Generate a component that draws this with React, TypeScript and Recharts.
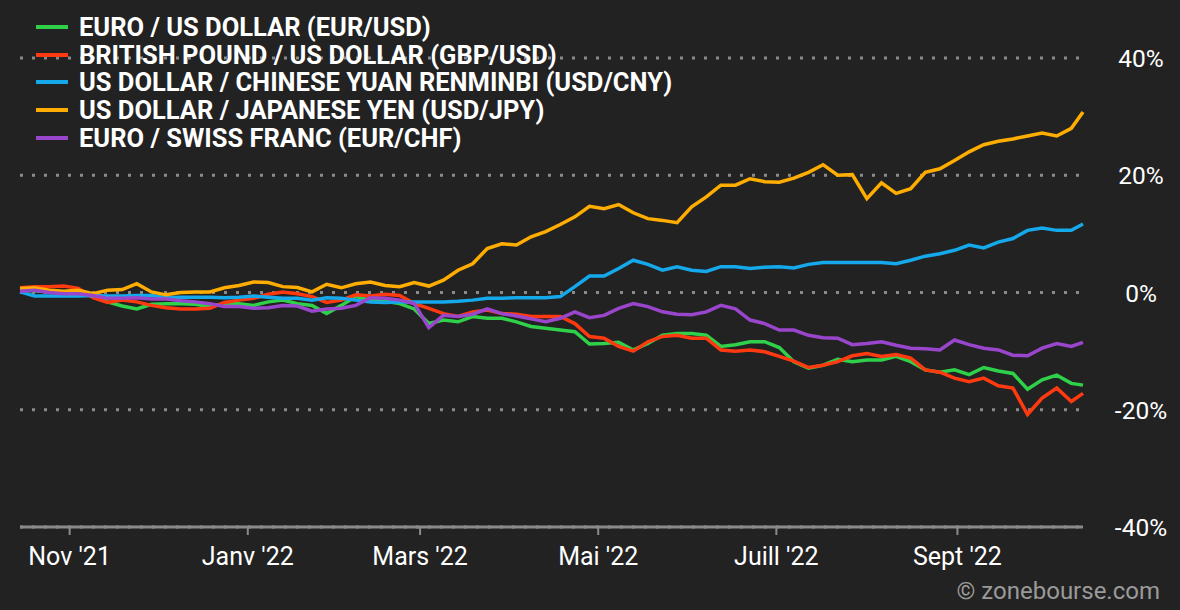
import { CartesianGrid, Line, LineChart, XAxis, YAxis } from 'recharts';

// sample dates, every 5 days from 15 Oct 2021 to 14 Oct 2022
const dates = [
  '2021-10-15', '2021-10-20', '2021-10-25', '2021-10-30', '2021-11-04', '2021-11-09', '2021-11-14', '2021-11-19',
  '2021-11-24', '2021-11-29', '2021-12-04', '2021-12-09', '2021-12-14', '2021-12-19', '2021-12-24', '2021-12-29',
  '2022-01-03', '2022-01-08', '2022-01-13', '2022-01-18', '2022-01-23', '2022-01-28', '2022-02-02', '2022-02-07',
  '2022-02-12', '2022-02-17', '2022-02-22', '2022-02-27', '2022-03-04', '2022-03-09', '2022-03-14', '2022-03-19',
  '2022-03-24', '2022-03-29', '2022-04-03', '2022-04-08', '2022-04-13', '2022-04-18', '2022-04-23', '2022-04-28',
  '2022-05-03', '2022-05-08', '2022-05-13', '2022-05-18', '2022-05-23', '2022-05-28', '2022-06-02', '2022-06-07',
  '2022-06-12', '2022-06-17', '2022-06-22', '2022-06-27', '2022-07-02', '2022-07-07', '2022-07-12', '2022-07-17',
  '2022-07-22', '2022-07-27', '2022-08-01', '2022-08-06', '2022-08-11', '2022-08-16', '2022-08-21', '2022-08-26',
  '2022-08-31', '2022-09-05', '2022-09-10', '2022-09-15', '2022-09-20', '2022-09-25', '2022-09-30', '2022-10-05',
  '2022-10-10', '2022-10-14'
];

// performance in %
const eurUsd = [
  0.4, 0.3, 0.1, 0, -0.2, -0.4, -1.6, -2.3, -2.8, -2.0, -1.9, -1.9, -2.0, -2.4, -1.9, -1.9,
  -2.2, -1.6, -1.3, -1.9, -2.2, -3.6, -2.2, -0.7, -1.3, -1.5, -1.9, -2.8, -5.3, -4.7, -5.0, -4.1,
  -4.4, -4.4, -5.0, -5.8, -6.1, -6.4, -6.7, -8.8, -8.7, -8.5, -9.8, -8.7, -7.3, -7.0, -7.0, -7.3,
  -9.2, -8.9, -8.4, -8.4, -9.4, -11.8, -12.9, -12.4, -11.4, -11.8, -11.5, -11.5, -10.9, -11.8, -13.2, -13.6,
  -13.2, -14.0, -12.8, -13.4, -13.8, -16.5, -14.9, -14.1, -15.5, -15.8
];
const gbpUsd = [
  0.8, 1.0, 1.0, 1.1, 0.7, -0.9, -1.7, -1.3, -1.6, -2.2, -2.6, -2.8, -2.8, -2.7, -1.7, -1.3,
  -1.0, -0.3, 0.1, -0.2, -0.7, -1.7, -1.3, -0.4, -0.6, -0.3, -0.5, -1.9, -2.7, -3.6, -4.1, -3.3,
  -3.0, -3.6, -3.7, -4.1, -4.1, -4.1, -5.3, -7.5, -7.8, -9.2, -10.0, -8.4, -7.5, -7.3, -7.8, -7.8,
  -9.8, -10.0, -9.8, -10.1, -10.9, -11.7, -12.8, -12.4, -11.8, -10.8, -10.4, -10.9, -10.6, -11.2, -13.2, -13.6,
  -14.6, -15.2, -14.6, -15.9, -16.3, -20.8, -18.0, -16.3, -18.6, -17.2
];
const usdCny = [
  0.1, -0.6, -0.6, -0.6, -0.6, -0.5, -0.6, -0.6, -0.5, -0.5, -0.9, -0.8, -0.8, -0.8, -0.9, -0.8,
  -0.6, -0.8, -1.0, -1.0, -1.3, -0.9, -1.0, -1.3, -1.6, -1.7, -1.6, -1.6, -1.6, -1.6, -1.5, -1.3,
  -1.0, -1.0, -0.9, -0.9, -0.9, -0.7, 1.0, 2.8, 2.8, 4.1, 5.5, 4.8, 3.8, 4.4, 3.8, 3.6,
  4.4, 4.4, 4.1, 4.3, 4.4, 4.2, 4.8, 5.1, 5.1, 5.1, 5.1, 5.1, 4.9, 5.5, 6.2, 6.6,
  7.2, 8.1, 7.6, 8.6, 9.2, 10.6, 11.0, 10.6, 10.6, 11.7
];
const usdJpy = [
  0.7, 0.8, 0.4, 0.2, 0.4, -0.2, 0.4, 0.5, 1.5, 0.1, -0.4, 0, 0.1, 0.1, 0.8, 1.2,
  1.8, 1.7, 1.0, 0.85, 0.1, 1.4, 0.8, 1.5, 1.8, 1.2, 1.0, 1.7, 1.1, 2.1, 3.8, 4.9,
  7.5, 8.3, 8.1, 9.5, 10.4, 11.6, 12.9, 14.7, 14.3, 15.0, 13.6, 12.6, 12.3, 11.9, 14.6, 16.3,
  18.3, 18.3, 19.4, 18.9, 18.8, 19.5, 20.5, 21.8, 20.0, 20.1, 16.0, 18.7, 16.9, 17.7, 20.5, 21.1,
  22.5, 24.0, 25.2, 25.8, 26.2, 26.7, 27.2, 26.7, 28.0, 30.8
];
const eurChf = [
  0.2, 0.4, 0, -0.2, -0.2, -0.5, -1.0, -1.0, -0.9, -1.1, -1.1, -1.4, -1.6, -1.9, -2.4, -2.4,
  -2.7, -2.6, -2.2, -2.3, -3.2, -2.8, -2.7, -2.2, -0.9, -1.0, -1.3, -1.9, -6.0, -3.9, -4.1, -3.7,
  -2.8, -3.6, -4.0, -4.5, -5.0, -4.4, -3.3, -4.3, -3.9, -2.7, -1.9, -2.4, -3.3, -3.7, -3.8, -3.3,
  -2.2, -2.8, -4.7, -5.3, -6.4, -6.4, -7.3, -7.7, -7.8, -8.9, -8.7, -8.4, -9.0, -9.5, -9.6, -9.8,
  -8.1, -8.9, -9.5, -9.8, -10.7, -10.8, -9.5, -8.7, -9.2, -8.5
];

const monthTicks = ['2021-11-01', '2022-01-01', '2022-03-01', '2022-05-01', '2022-07-01', '2022-09-01'];
const monthLabels = ["Nov '21", "Janv '22", "Mars '22", "Mai '22", "Juill '22", "Sept '22"];
const yTicks = [-40, -20, 0, 20, 40];

const series = [
  { key: 'eurUsd', name: 'EURO / US DOLLAR (EUR/USD)', color: '#2fd14a', values: eurUsd },
  { key: 'gbpUsd', name: 'BRITISH POUND / US DOLLAR (GBP/USD)', color: '#ff3a10', values: gbpUsd },
  { key: 'usdCny', name: 'US DOLLAR / CHINESE YUAN RENMINBI (USD/CNY)', color: '#15a8ea', values: usdCny },
  { key: 'usdJpy', name: 'US DOLLAR / JAPANESE YEN (USD/JPY)', color: '#ffad00', values: usdJpy },
  { key: 'eurChf', name: 'EURO / SWISS FRANC (EUR/CHF)', color: '#9a46cc', values: eurChf }
];

const data = dates.map((d, i) => {
  const row: Record<string, number> = { t: Date.parse(d) };
  series.forEach((s) => {
    row[s.key] = s.values[i];
  });
  return row;
});

const tickTimes = monthTicks.map((d) => Date.parse(d));

const FONT = 'Roboto, "Liberation Sans", Arial, sans-serif';

function LegendBox() {
  return (
    <div style={{ position: 'absolute', top: 13, left: 36, fontFamily: FONT }}>
      {series.map((s) => (
        <div key={s.key} style={{ display: 'flex', alignItems: 'center', height: 27.7 }}>
          <span style={{ width: 32, height: 4, background: s.color, marginRight: 11 }} />
          <span style={{ color: '#fff', fontWeight: 700, fontSize: 25.5, whiteSpace: 'nowrap' }}>{s.name}</span>
        </div>
      ))}
    </div>
  );
}

function XTick(props: any) {
  const { x, y, payload } = props;
  const idx = tickTimes.indexOf(payload.value);
  return (
    <text x={x} y={y} dy={28} textAnchor="middle" fill="#fff" fontSize={25} fontFamily={FONT}>
      {monthLabels[idx]}
    </text>
  );
}

function YTick(props: any) {
  const { x, y, payload } = props;
  return (
    <text x={x + 56} y={y} dy={9} textAnchor="middle" fill="#fff" fontSize={24.5} fontFamily={FONT}>
      {payload.value}%
    </text>
  );
}

export default function App() {
  return (
    <div
      style={{
        position: 'fixed',
        top: 0,
        left: 0,
        width: 1180,
        height: 610,
        background: '#222222'
      }}
    >
      <LineChart width={1180} height={610} data={data} margin={{ top: 58, right: 0, left: 20, bottom: 0 }}>
        <CartesianGrid vertical={false} stroke="#8a8a8a" strokeWidth={3} strokeDasharray="3 9" />
        <XAxis
          dataKey="t"
          type="number"
          domain={[Date.parse('2021-10-15'), Date.parse('2022-10-14')]}
          ticks={tickTimes}
          tick={<XTick />}
          height={83}
          axisLine={{ stroke: '#8a8a8a', strokeWidth: 3 }}
          tickLine={{ stroke: '#8a8a8a', strokeWidth: 2 }}
          tickSize={8}
        />
        <YAxis
          orientation="right"
          domain={[-40, 40]}
          ticks={yTicks}
          width={97}
          axisLine={false}
          tickLine={false}
          tickSize={0}
          tick={<YTick />}
        />
        {series.map((s) => (
          <Line
            key={s.key}
            type="linear"
            dataKey={s.key}
            name={s.name}
            stroke={s.color}
            strokeWidth={3.5}
            dot={false}
            isAnimationActive={false}
          />
        ))}
      </LineChart>
      <LegendBox />
      <div
        style={{
          position: 'absolute',
          right: 20,
          top: 577,
          color: '#9a9a9a',
          fontSize: 24,
          fontFamily: FONT
        }}
      >
        © zonebourse.com
      </div>
    </div>
  );
}
